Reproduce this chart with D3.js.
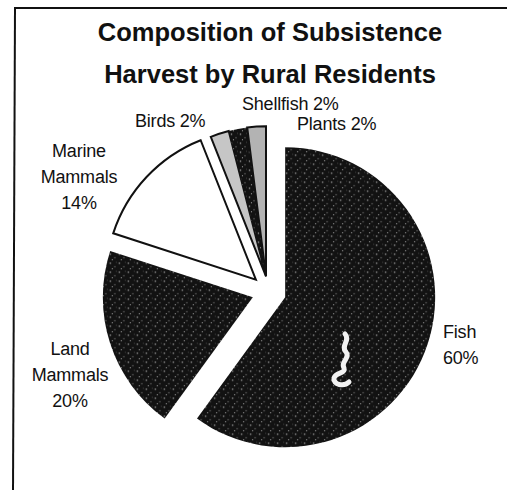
<!DOCTYPE html>
<html>
<head>
<meta charset="utf-8">
<script src="https://cdn.jsdelivr.net/npm/d3@7"></script>
<style>
  html, body { margin: 0; padding: 0; background: #fff; }
  svg { display: block; font-family: "Liberation Sans", Arial, sans-serif; }
</style>
</head>
<body>
<svg id="chart" width="507" height="499"></svg>
<script>
// data
const categories = ["Fish", "Land Mammals", "Marine Mammals", "Birds", "Shellfish", "Plants"];
const shares = [60, 20, 14, 2, 2, 2];
const labelLines = [
    ["Fish", "60%"],
    ["Land", "Mammals", "20%"],
    ["Marine", "Mammals", "14%"],
    ["Birds 2%"],
    ["Shellfish 2%"],
    ["Plants 2%"]
];
const titleLines = ["Composition of Subsistence", "Harvest by Rural Residents"];

const width = 507, height = 499;
const cx = 269, cy = 292, radius = 150;

const svg = d3.select("#chart");

// speckled dark fill, like the scanned print
const defs = svg.append("defs");
const pat = defs.append("pattern")
    .attr("id", "speckle")
    .attr("patternUnits", "userSpaceOnUse")
    .attr("width", 9).attr("height", 9);
pat.append("rect").attr("width", 9).attr("height", 9).attr("fill", "#121212");
[[1.5, 2, 0.8, "#a0a0a0"], [6, 5.5, 0.7, "#707070"], [3.5, 7.5, 0.6, "#bbb"], [7.5, 1, 0.5, "#555"]]
    .forEach(d => pat.append("circle").attr("cx", d[0]).attr("cy", d[1]).attr("r", d[2]).attr("fill", d[3]));

// frame (only top and left edge survive in the scan)
svg.append("line").attr("x1", 14).attr("y1", 8).attr("x2", 507).attr("y2", 8)
    .attr("stroke", "#111").attr("stroke-width", 2);
svg.append("line").attr("x1", 15).attr("y1", 8).attr("x2", 13).attr("y2", 490)
    .attr("stroke", "#111").attr("stroke-width", 2);

// title
svg.append("g").selectAll("text")
    .data(titleLines)
    .enter()
    .append("text")
    .attr("x", 270)
    .attr("y", (d, i) => 41 + i * 42)
    .attr("text-anchor", "middle")
    .attr("font-size", 25.5)
    .attr("font-weight", "bold")
    .attr("fill", "#111")
    .text(d => d);

const slices = categories.map((c, i) => ({ name: c, value: shares[i] }));
const pie = d3.pie().sort(null).value(d => d.value).startAngle(0).endAngle(2 * Math.PI);
const arcs = pie(slices);
const arc = d3.arc().innerRadius(0).outerRadius(radius);

const fills = {
    "Fish": "url(#speckle)",
    "Land Mammals": "url(#speckle)",
    "Marine Mammals": "#ffffff",
    "Birds": "#c6c6c6",
    "Shellfish": "url(#speckle)",
    "Plants": "#b3b3b3"
};
const outlined = { "Marine Mammals": true, "Birds": true, "Plants": true };

// the three small slices are pulled out together
const smallGroup = ["Birds", "Shellfish", "Plants"];
const smallArcs = arcs.filter(a => smallGroup.includes(a.data.name));
const groupMid = (smallArcs[0].startAngle + smallArcs[smallArcs.length - 1].endAngle) / 2;
const explode = { "Fish": 17, "Land Mammals": 17, "Marine Mammals": 18 };

function offset(a) {
    let ang, dist;
    if (smallGroup.includes(a.data.name)) { ang = groupMid; dist = 16; }
    else { ang = (a.startAngle + a.endAngle) / 2; dist = explode[a.data.name]; }
    return [Math.sin(ang) * dist, -Math.cos(ang) * dist];
}

const pieG = svg.append("g").attr("transform", `translate(${cx},${cy})`);
pieG.selectAll("path")
    .data(arcs)
    .enter()
    .append("path")
    .attr("d", arc)
    .attr("transform", d => `translate(${offset(d)[0]},${offset(d)[1]})`)
    .attr("fill", d => fills[d.data.name])
    .attr("stroke", d => outlined[d.data.name] ? "#111" : "none")
    .attr("stroke-width", 2)
    .attr("stroke-linejoin", "miter");

// white squiggle on the fish slice
svg.append("path")
    .attr("d", "M345,334 C351,340 340,346 346,352 C351,358 340,362 344,368 C346,374 336,372 334,378 C333,385 344,387 349,382")
    .attr("fill", "none")
    .attr("stroke", "#f2f2f2")
    .attr("stroke-width", 5)
    .attr("stroke-linecap", "round");

// labels
const labelPos = {
    "Fish": { x: 443, y: 338, anchor: "start" },
    "Land Mammals": { x: 70, y: 355, anchor: "middle" },
    "Marine Mammals": { x: 79, y: 157, anchor: "middle" },
    "Birds": { x: 135, y: 127, anchor: "start" },
    "Shellfish": { x: 242, y: 110, anchor: "start" },
    "Plants": { x: 297, y: 130, anchor: "start" }
};

const labels = svg.append("g").attr("id", "labels");
categories.forEach((c, i) => {
    const p = labelPos[c];
    labels.append("text")
        .attr("text-anchor", p.anchor)
        .attr("font-size", 18)
        .attr("letter-spacing", -0.2)
        .attr("fill", "#111")
        .selectAll("tspan")
        .data(labelLines[i])
        .enter()
        .append("tspan")
        .attr("x", p.x)
        .attr("y", (d, j) => p.y + j * 26)
        .text(d => d);
});
</script>
</body>
</html>
